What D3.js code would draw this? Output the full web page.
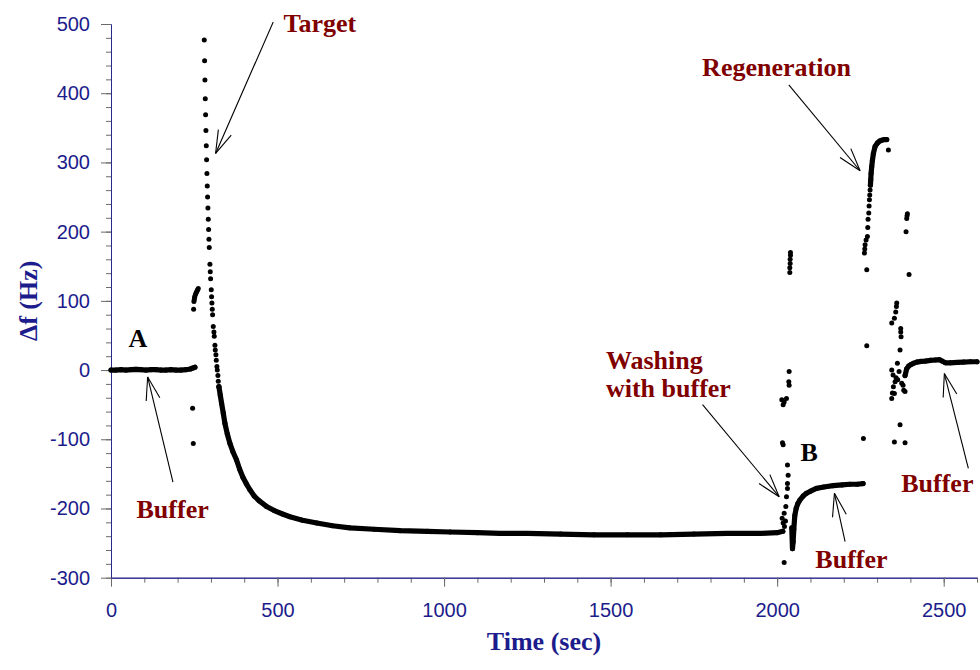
<!DOCTYPE html>
<html lang="en">
<head>
  <meta charset="UTF-8">
  <title>QCM frequency shift</title>
  <script src="https://d3js.org/d3.v7.min.js"></script>
  <style>
    body { margin: 0; background: #fff; }
    .tick text { font-family: "Liberation Sans", Arial, sans-serif; font-size: 20px; fill: #1c1c8c; }
    .tick line { stroke: #6a6a6a; }
    .domain { stroke: #2a2a8c; }
    .title { font-family: "Liberation Serif", "Times New Roman", serif; font-weight: bold; font-size: 26px; fill: #1c1c8c; }
    .note { font-family: "Liberation Serif", "Times New Roman", serif; font-weight: bold; font-size: 26px; }
  </style>
</head>
<body>
<svg width="980" height="670"></svg>
<script>
  // buffer baseline before injection (dense)
  const bufferA_t = [0, 15, 30, 45, 60, 75, 90, 105, 120, 135, 150, 165, 180, 195, 210, 225, 238, 246, 252];
  const bufferA_v = [0, 0, 0.5, 0, 0.5, 1, 0.5, 0, 0.5, 0.5, 0, 0, 0.5, 0, 0, 0.5, 1.5, 3, 4];

  // injection spikes (single points)
  const jump_t = [245, 247, 248, 249, 250, 251, 252, 254, 256, 258, 260, 262];
  const jump_v = [-55, -106, 88, 99, 102, 105, 107, 110, 112, 114, 116, 118];

  const target_t = [280, 281, 282, 283, 284, 285, 286, 287, 288, 289, 290, 291, 292, 293, 294, 295, 297, 298, 299, 301, 302, 303, 304, 305, 307, 309, 310, 312, 313, 315, 316, 318, 319, 321, 322, 324];
  const target_v = [477, 447, 419, 392, 369, 346, 324, 304, 284, 266, 250, 234, 218, 203, 189, 177, 153, 142, 132, 116, 106, 97, 88, 80, 63, 55, 49, 36, 29, 22, 14, 5, 0, -8, -16, -24];

  // binding decay (dense)
  const decay_t = [324, 328, 332, 337, 342, 349, 357, 366, 377, 386, 396, 406, 417, 430, 445, 467, 490, 515, 537, 575, 618, 665, 717, 790, 868, 950, 1018, 1100, 1168, 1250, 1350, 1450, 1550, 1650, 1750, 1850, 1950, 2000, 2017];
  const decay_v = [-24, -36, -48, -62, -77, -92, -106, -118, -130, -143, -155, -164, -173, -182, -189, -197, -203, -208, -212, -217, -221, -225, -228, -230, -232, -233, -234, -235, -236, -236, -237, -238, -238, -238, -237, -236, -236, -235, -233];

  // washing step (single points)
  const wash_t = [2015, 2018, 2021, 2026, 2028, 2031, 2031, 2033, 2031, 2016, 2018, 2014, 2018, 2021, 2028, 2036, 2035, 2036, 2038, 2038, 2039, 2039, 2040, 2040, 2021, 2022, 2025];
  const wash_v = [-214, -221, -207, -197, -183, -171, -164, -152, -137, -105, -108, -43, -50, -46, -41, -22, -17, -2, 141, 148, 154, 160, 166, 170, -278, -226, -218];

  // buffer after washing (dense)
  const bufferB_t = [2044, 2046, 2048, 2050, 2053, 2057, 2062, 2068, 2078, 2088, 2100, 2118, 2140, 2168, 2195, 2218, 2240, 2258];
  const bufferB_v = [-228, -258, -248, -230, -210, -200, -193, -188, -182, -178, -175, -171, -169, -167, -166, -165, -165, -164];

  // regeneration
  const regenPts_t = [2259, 2269, 2269, 2262, 2263, 2264, 2267, 2271, 2272, 2273, 2275, 2276, 2277, 2278, 2279, 2334];
  const regenPts_v = [-99, 35, 145, 169, 175, 181, 188, 193, 206, 218, 227, 237, 246, 253, 260, 318];
  const regen_t = [2280, 2281, 2282, 2284, 2286, 2289, 2294, 2301, 2308, 2314, 2322, 2329];
  const regen_v = [267, 275, 284, 294, 303, 313, 323, 328, 331, 332, 333, 333];

  const mix_t = [2387, 2389, 2390, 2391, 2396, 2359, 2358, 2356, 2352, 2344, 2371, 2372, 2371, 2369, 2361, 2344, 2354, 2349, 2344, 2348, 2357, 2374, 2384, 2378, 2369, 2352, 2384, 2346, 2352, 2362, 2366, 2380];
  const mix_v = [200, 219, 223, 226, 138, 97, 92, 84, 75, 68, 60, 48, 55, 29, 10, 0, -17, -24, -41, -7, -11, -19, -31, -22, -79, -104, -105, -33, -34, -14, -2, -29];

  // final buffer (dense)
  const bufferC_t = [2384, 2389, 2395, 2402, 2410, 2420, 2432, 2445, 2460, 2475, 2487, 2495, 2505, 2520, 2540, 2560, 2580, 2600];
  const bufferC_v = [-8, 2, 6, 8, 10, 11.5, 12.5, 13, 14, 14.5, 15, 13, 10.5, 10.5, 11, 11.5, 12, 12];

  const xTicks = [0, 500, 1000, 1500, 2000, 2500];
  const yTicks = [-300, -200, -100, 0, 100, 200, 300, 400, 500];

  // labels and arrows, in data units
  const notes = [
    { text: "Target", t: 627, v: 488, color: "#800000", anchor: "middle" },
    { text: "Regeneration", t: 1998, v: 425, color: "#800000", anchor: "middle" },
    { text: "A", t: 81, v: 33, color: "#000", anchor: "middle" },
    { text: "Buffer", t: 185, v: -214, color: "#800000", anchor: "middle" },
    { text: "Washing", t: 1486, v: 1.5, color: "#800000", anchor: "start" },
    { text: "with buffer", t: 1486, v: -39, color: "#800000", anchor: "start" },
    { text: "B", t: 2096, v: -132, color: "#000", anchor: "middle" },
    { text: "Buffer", t: 2223, v: -286, color: "#800000", anchor: "middle" },
    { text: "Buffer", t: 2481, v: -176, color: "#800000", anchor: "middle" }
  ];
  const arrows = [
    [487, 503, 314, 313],
    [2035, 412, 2249, 288],
    [186, -162, 110, -10],
    [1776, -50, 2006, -183],
    [2204, -248, 2172, -178],
    [2574, -142, 2502, -5]
  ];

  let svg = d3.select("svg");
  let x = d3.scaleLinear().domain([0, 2600]).range([111, 977]);
  let y = d3.scaleLinear().domain([-300, 500]).range([577.7, 24]);

  // minor ticks first, major on top
  svg.append("g")
    .attr("transform", "translate(0," + y(-300) + ")")
    .call(d3.axisBottom(x).tickValues(d3.range(0, 2601, 100)).tickSize(5).tickSizeOuter(0).tickFormat(""));
  svg.append("g")
    .attr("transform", "translate(0," + y(-300) + ")")
    .call(d3.axisBottom(x).tickValues(xTicks).tickSize(9).tickSizeOuter(0).tickPadding(16).tickFormat(d => String(d)));

  svg.append("g")
    .attr("transform", "translate(" + x(0) + ",0)")
    .call(d3.axisLeft(y).tickValues(d3.range(-300, 501, 20)).tickSize(5).tickSizeOuter(0).tickFormat(""));
  svg.append("g")
    .attr("transform", "translate(" + x(0) + ",0)")
    .call(d3.axisLeft(y).tickValues(yTicks).tickSize(10).tickSizeOuter(0).tickPadding(11).tickFormat(d => String(d)));

  svg.append("text").attr("class", "title")
    .attr("x", (x(0) + x(2600)) / 2).attr("y", 650)
    .attr("text-anchor", "middle").text("Time (sec)");
  svg.append("text").attr("class", "title")
    .attr("transform", "translate(37," + (y(-300) + y(500)) / 2 + ") rotate(-90)")
    .attr("text-anchor", "middle").text("Δf (Hz)");

  let zip = (ts, vs) => ts.map((t, i) => ({ t: t, v: vs[i] }));

  let line = d3.line().x(d => x(d.t)).y(d => y(d.v));
  let dense = [zip(bufferA_t, bufferA_v), zip(decay_t, decay_v), zip(bufferB_t, bufferB_v),
               zip(regen_t, regen_v), zip(bufferC_t, bufferC_v)];
  let points = [].concat(...dense, zip(jump_t, jump_v), zip(target_t, target_v), zip(wash_t, wash_v),
               zip(regenPts_t, regenPts_v), zip(mix_t, mix_v));

  let plot = svg.append("g");
  plot.selectAll("path.trace")
    .data(dense)
    .enter().append("path")
      .attr("class", "trace")
      .attr("d", line)
      .attr("fill", "none")
      .attr("stroke", "#000")
      .attr("stroke-width", 5.2)
      .attr("stroke-linecap", "round")
      .attr("stroke-linejoin", "round");

  plot.selectAll("circle")
    .data(points)
    .enter().append("circle")
      .attr("cx", d => x(d.t))
      .attr("cy", d => y(d.v))
      .attr("r", 2.5)
      .attr("fill", "#000");

  // annotation arrows with open heads
  let ag = svg.append("g").attr("stroke", "#000").attr("stroke-width", 1.1).attr("fill", "none");
  arrows.forEach(function(a) {
    let x0 = x(a[0]), y0 = y(a[1]), x1 = x(a[2]), y1 = y(a[3]);
    let ang = Math.atan2(y0 - y1, x0 - x1);
    let len = 24, spread = 17 * Math.PI / 180;
    ag.append("line").attr("x1", x0).attr("y1", y0).attr("x2", x1).attr("y2", y1);
    [-spread, spread].forEach(function(s) {
      ag.append("line")
        .attr("x1", x1).attr("y1", y1)
        .attr("x2", x1 + len * Math.cos(ang + s))
        .attr("y2", y1 + len * Math.sin(ang + s));
    });
  });

  svg.selectAll("text.note")
    .data(notes)
    .enter().append("text")
      .attr("class", "note")
      .attr("x", d => x(d.t))
      .attr("y", d => y(d.v))
      .attr("text-anchor", d => d.anchor)
      .attr("fill", d => d.color)
      .text(d => d.text);
</script>
</body>
</html>
